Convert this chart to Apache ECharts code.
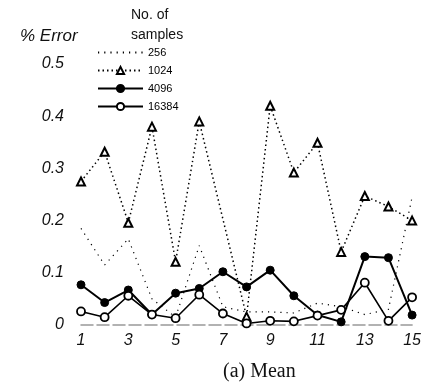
<!DOCTYPE html>
<html>
<head>
<meta charset="utf-8">
<script src="https://cdn.jsdelivr.net/npm/echarts@6/dist/echarts.min.js"></script>
<style>
  html, body { margin: 0; padding: 0; background: #fff; }
  #main { width: 424px; height: 383px; }
</style>
</head>
<body>
<div id="main"></div>
<script>
// sample index along the x axis
var categories = ['1', '2', '3', '4', '5', '6', '7', '8', '9', '10', '11', '12', '13', '14', '15']
var yTicks = [0, 0.1, 0.2, 0.3, 0.4, 0.5]

// % error for each number of samples
var err256 = [0.185, 0.115, 0.165, 0.05, 0.015, 0.152, 0.035, 0.025, 0.025, 0.023, 0.042, 0.035, 0.02, 0.03, 0.245]
var err1024 = [0.275, 0.332, 0.196, 0.38, 0.121, 0.39, null, 0.016, 0.42, 0.292, 0.349, 0.14, 0.247, 0.227, 0.2]
var err4096 = [0.077, 0.043, 0.067, 0.02, 0.061, 0.07, 0.102, 0.073, 0.105, 0.056, 0.019, 0.006, 0.131, 0.129, 0.019]
var err16384 = [0.026, 0.015, 0.056, 0.02, 0.013, 0.058, 0.022, 0.003, 0.008, 0.007, 0.018, 0.029, 0.081, 0.008, 0.053]

var chart = echarts.init(document.getElementById('main'), null, { renderer: 'canvas' })
var option = {
  animation: false,
  backgroundColor: '#fff',
  title: [
    {
      text: '% Error',
      left: 15,
      top: 23,
      textStyle: { fontFamily: 'Liberation Sans', fontStyle: 'italic', fontWeight: 'normal', fontSize: 17, color: '#111' }
    },
    {
      text: 'No. of\nsamples',
      left: 126,
      top: 0,
      textStyle: { fontFamily: 'Liberation Sans', fontWeight: 'normal', fontSize: 14, lineHeight: 20, color: '#111' }
    },
    {
      text: '(a) Mean',
      top: 357,
      left: 218,
      textStyle: { fontFamily: 'Liberation Serif', fontWeight: 'normal', fontSize: 20, color: '#111' }
    }
  ],
  legend: {
    orient: 'vertical',
    left: 92,
    top: 42,
    itemWidth: 45,
    itemHeight: 9,
    itemGap: 7,
    textStyle: { fontFamily: 'Liberation Sans', fontSize: 11, color: '#000', lineHeight: 10, padding: [0, 0, 0, 0] },
    data: [
      { name: '256', itemStyle: { opacity: 0 } },
      '1024', '4096', '16384'
    ]
  },
  grid: { left: 81, right: 11, top: 64, bottom: 58 },
  xAxis: {
    type: 'category',
    data: categories,
    boundaryGap: false,
    axisTick: { show: false },
    axisLine: { show: true, lineStyle: { color: '#999', width: 1.5, type: [12, 4] } },
    axisLabel: {
      interval: 1,
      margin: 8,
      fontFamily: 'Liberation Sans',
      fontStyle: 'italic',
      fontSize: 16,
      color: '#111'
    },
    splitLine: { show: false }
  },
  yAxis: {
    type: 'value',
    min: yTicks[0],
    max: yTicks[yTicks.length - 1],
    interval: 0.1,
    axisLine: { show: false },
    axisTick: { show: false },
    splitLine: { show: false },
    axisLabel: {
      margin: 17,
      fontFamily: 'Liberation Sans',
      fontStyle: 'italic',
      fontSize: 16,
      color: '#111',
      formatter: function (v) { return v === 0 ? '0' : v.toFixed(1) }
    }
  },
  series: [
    {
      name: '256',
      type: 'line',
      data: err256,
      symbol: 'none',
      lineStyle: { color: '#000', width: 1.2, type: [1.2, 5] },
      itemStyle: { color: '#000' },
      z: 1
    },
    {
      name: '1024',
      type: 'line',
      data: err1024,
      connectNulls: true,
      symbol: 'triangle',
      symbolSize: 8,
      lineStyle: { color: '#000', width: 1.5, type: [1.5, 3] },
      itemStyle: { color: '#fff', borderColor: '#000', borderWidth: 2 },
      z: 2
    },
    {
      name: '4096',
      type: 'line',
      data: err4096,
      symbol: 'circle',
      symbolSize: 8,
      lineStyle: { color: '#000', width: 2 },
      itemStyle: { color: '#000', borderColor: '#000', borderWidth: 1 },
      z: 3
    },
    {
      name: '16384',
      type: 'line',
      data: err16384,
      symbol: 'circle',
      symbolSize: 8,
      lineStyle: { color: '#000', width: 1.6 },
      itemStyle: { color: '#fff', borderColor: '#000', borderWidth: 1.8 },
      z: 4
    }
  ]
}
chart.setOption(option)
</script>
</body>
</html>
